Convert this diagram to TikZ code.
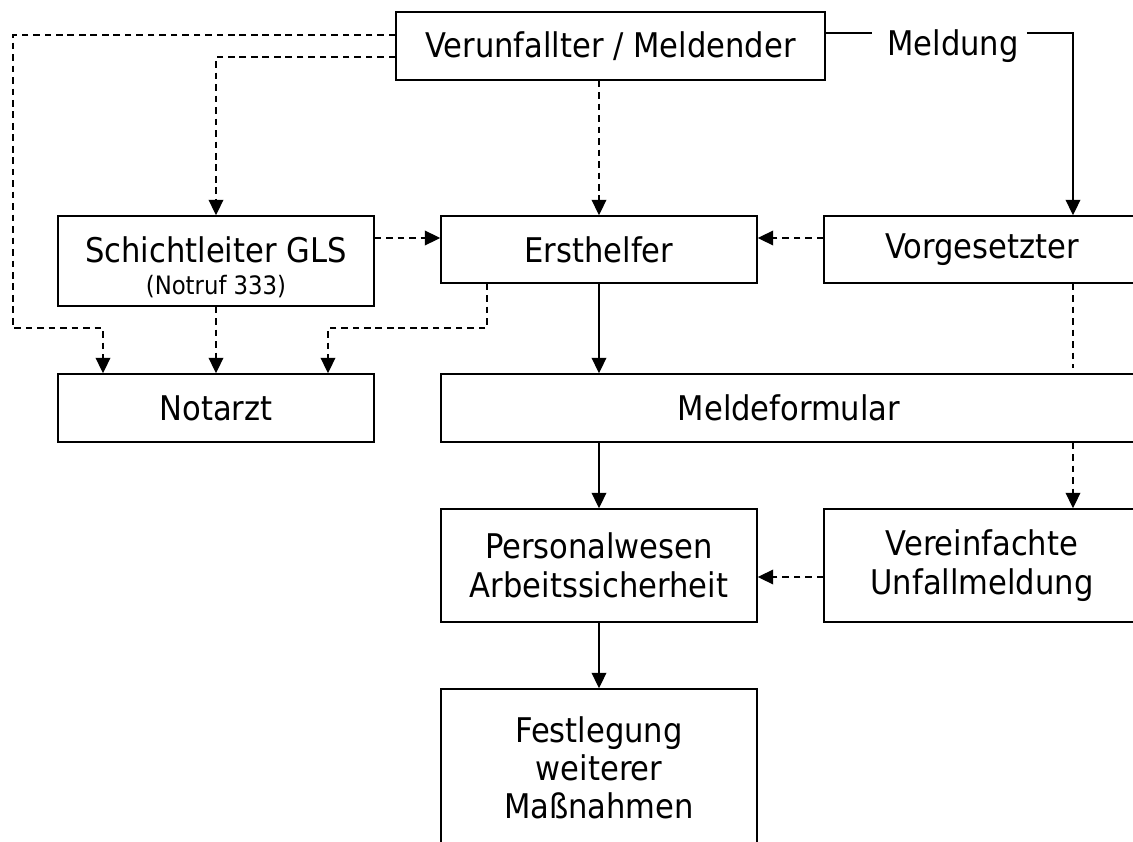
\documentclass[tikz,border=0pt]{standalone}
\usepackage{fontspec}
\setmainfont{DejaVu Sans Condensed}
\usetikzlibrary{arrows.meta,calc}
\tikzset{
  box/.style={draw, line width=1.2pt, fill=white, inner sep=0pt, align=center,
    font=\fontsize{25.5pt}{29.5pt}\selectfont},
  lbl/.style={inner sep=0pt, font=\fontsize{25.5pt}{29.5pt}\selectfont},
  small/.style={inner sep=0pt, font=\fontsize{19pt}{22pt}\selectfont},
  conn/.style={line width=1pt},
  arr/.style={conn, -{Triangle[length=11.5pt,width=11pt]}},
  dline/.style={conn, dash pattern=on 5pt off 3.6pt},
  darr/.style={dline, -{Triangle[length=11.5pt,width=11pt]}}
}
\begin{document}
\begin{tikzpicture}[x=0.75pt,y=-0.75pt]
\useasboundingbox (0,0) rectangle (1133,842);
\clip (0,0) rectangle (1133,842);
% boxes
\node[box, minimum width=321.75pt, minimum height=51pt] (V) at (610.5,46) {Verunfallter / Meldender};
\node[box, minimum width=237pt, minimum height=67.5pt] (S) at (216,261) {};
\node[lbl] (St) at (216,250) {Schichtleiter GLS};
\node[small] (Sn) at (216,287) {(Notruf 333)};
\node[box, minimum width=237pt, minimum height=50.25pt] (E) at (599,249.5) {Ersthelfer};
\node[box, minimum width=237pt, minimum height=50.25pt] (G) at (982,249.5) {Vorgesetzter};
\node[box, minimum width=237pt, minimum height=51pt] (N) at (216,408) {Notarzt};
\node[box, minimum width=522pt, minimum height=51pt] (M) at (789,408) {Meldeformular};
\node[box, minimum width=237pt, minimum height=84.75pt] (P) at (599,565.5) {Personalwesen\\Arbeitssicherheit};
\node[box, minimum width=237pt, minimum height=84.75pt] (U) at (982,565.5) {Vereinfachte\\Unfallmeldung};
\node[box, minimum width=237pt, minimum height=117.75pt, font=\fontsize{25.5pt}{28.5pt}\selectfont] (F) at (599,767.5) {Festlegung\\weiterer\\Maßnahmen};
\node[lbl] (ml) at (953,46) {Meldung};
% helper coordinates
\coordinate (m1) at (1073,33);
\coordinate (a1) at (13,35);
\coordinate (a2) at (13,328);
\coordinate (a3) at (103,328);
\coordinate (b1) at (216,57);
\coordinate (c1) at (0,238);
\coordinate (d1) at (487,328);
\coordinate (d2) at (328,328);
\coordinate (c2) at (0,577);
\coordinate (g1) at (1073,368);
% connectors
\draw[conn] (V.east |- m1) -- ([xshift=-11pt]ml.west |- m1);
\draw[arr] ([xshift=6pt]ml.east |- m1) -- (m1) -- (G.north -| m1);
\draw[darr] (V.west |- a1) -- (a1) -- (a2) -- (a3) -- (N.north -| a3);
\draw[darr] (V.west |- b1) -- (b1) -- (S.north -| b1);
\draw[darr] (V.south -| E.north) -- (E.north);
\draw[darr] (S.east |- c1) -- (E.west |- c1);
\draw[darr] (G.west |- c1) -- (E.east |- c1);
\draw[darr] (S.south) -- (N.north);
\draw[darr] (E.south -| d1) -- (d1) -- (d2) -- (N.north -| d2);
\draw[arr] (E.south) -- (M.north -| E.south);
\draw[dline] (G.south -| m1) -- (g1);
\draw[darr] (M.south -| m1) -- (U.north -| m1);
\draw[arr] (M.south -| P.north) -- (P.north);
\draw[darr] (U.west |- c2) -- (P.east |- c2);
\draw[arr] (P.south) -- (F.north);
\end{tikzpicture}
\end{document}
